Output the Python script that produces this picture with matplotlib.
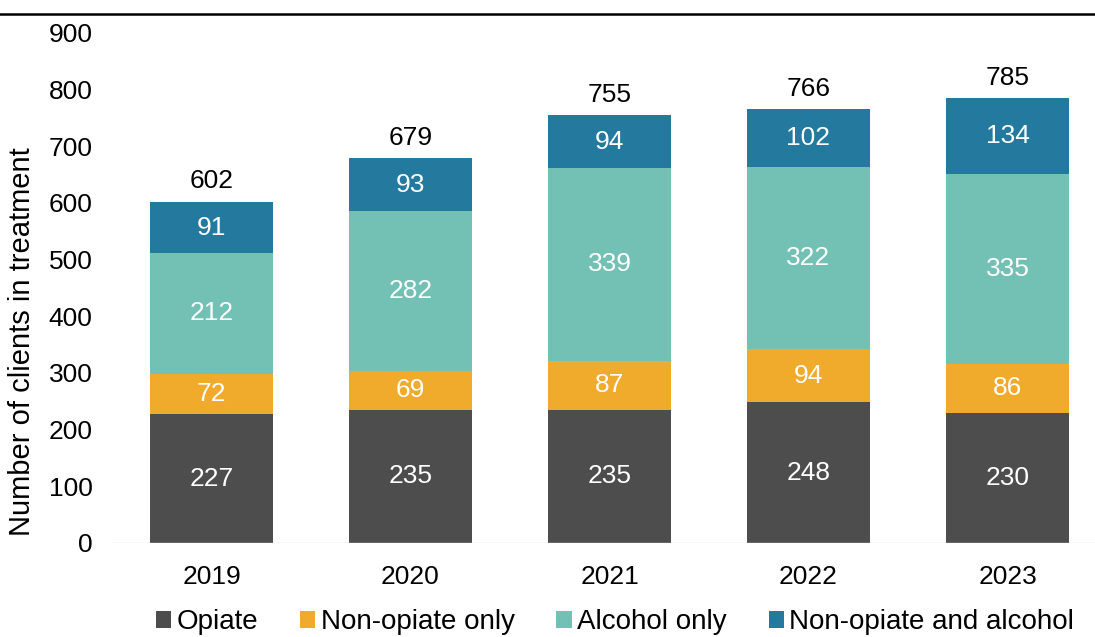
import matplotlib
matplotlib.use("Agg")
import matplotlib.pyplot as plt
import numpy as np

years = ["2019", "2020", "2021", "2022", "2023"]
opiate = [227, 235, 235, 248, 230]
non_opiate_only = [72, 69, 87, 94, 86]
alcohol_only = [212, 282, 339, 322, 335]
non_opiate_alcohol = [91, 93, 94, 102, 134]
totals = [602, 679, 755, 766, 785]
series_names = ["Opiate", "Non-opiate only", "Alcohol only", "Non-opiate and alcohol"]
colors = ["#4d4d4d", "#f0aa2c", "#72c1b4", "#237a9e"]

plt.rcParams['font.family'] = ['Liberation Sans', 'DejaVu Sans']
FS = 19

W, H = 1095, 637
fig = plt.figure(figsize=(W/100, H/100), dpi=100)
left, right = 112, 1095
bottom_px, top_px = 543, 33
ax = fig.add_axes([left/W, 1 - bottom_px/H, (right-left)/W, (bottom_px-top_px)/H])

x = np.arange(len(years))
series = [opiate, non_opiate_only, alcohol_only, non_opiate_alcohol]
base = np.zeros(len(years))
for vals, name, c in zip(series, series_names, colors):
    vals = np.array(vals)
    ax.bar(x, vals, bottom=base, width=0.62, color=c, label=name)
    for xi, b, v in zip(x, base, vals):
        ax.text(xi, b + v/2, str(v), ha='center', va='center', color='white', fontsize=FS)
    base = base + vals

for xi, t, top in zip(x, totals, base):
    ax.text(xi, top + 36, str(t), ha='center', va='center', color='black', fontsize=FS)

spacing = 199
ax.set_xlim(-0.5, (right-left)/spacing - 0.5)
ax.set_ylim(0, 900)
ax.set_yticks(range(0, 901, 100))
ax.set_xticks(x)
ax.set_xticklabels(years)
ax.tick_params(axis='both', length=0, labelsize=FS)
ax.tick_params(axis='x', pad=16)
ax.tick_params(axis='y', pad=14)
for s in ax.spines.values():
    s.set_visible(False)
ax.axhline(0, color='#d9d9d9', lw=1)
ax.set_ylabel("Number of clients in treatment", fontsize=21)
ax.yaxis.set_label_coords(-(112-36)/(right-left), (543-342)/510)

handles, labels = ax.get_legend_handles_labels()
fig.legend(handles, labels, loc='center', bbox_to_anchor=(615/W, 1 - 622/H), ncol=4,
           frameon=False, fontsize=20, handlelength=0.55, handleheight=0.55,
           handletextpad=0.2, columnspacing=1.5)

fig.add_artist(plt.Line2D([0, 1], [1 - 13.5/H, 1 - 13.5/H], color='black', lw=1.8,
                          transform=fig.transFigure))

fig.savefig("out.png", dpi=100)
